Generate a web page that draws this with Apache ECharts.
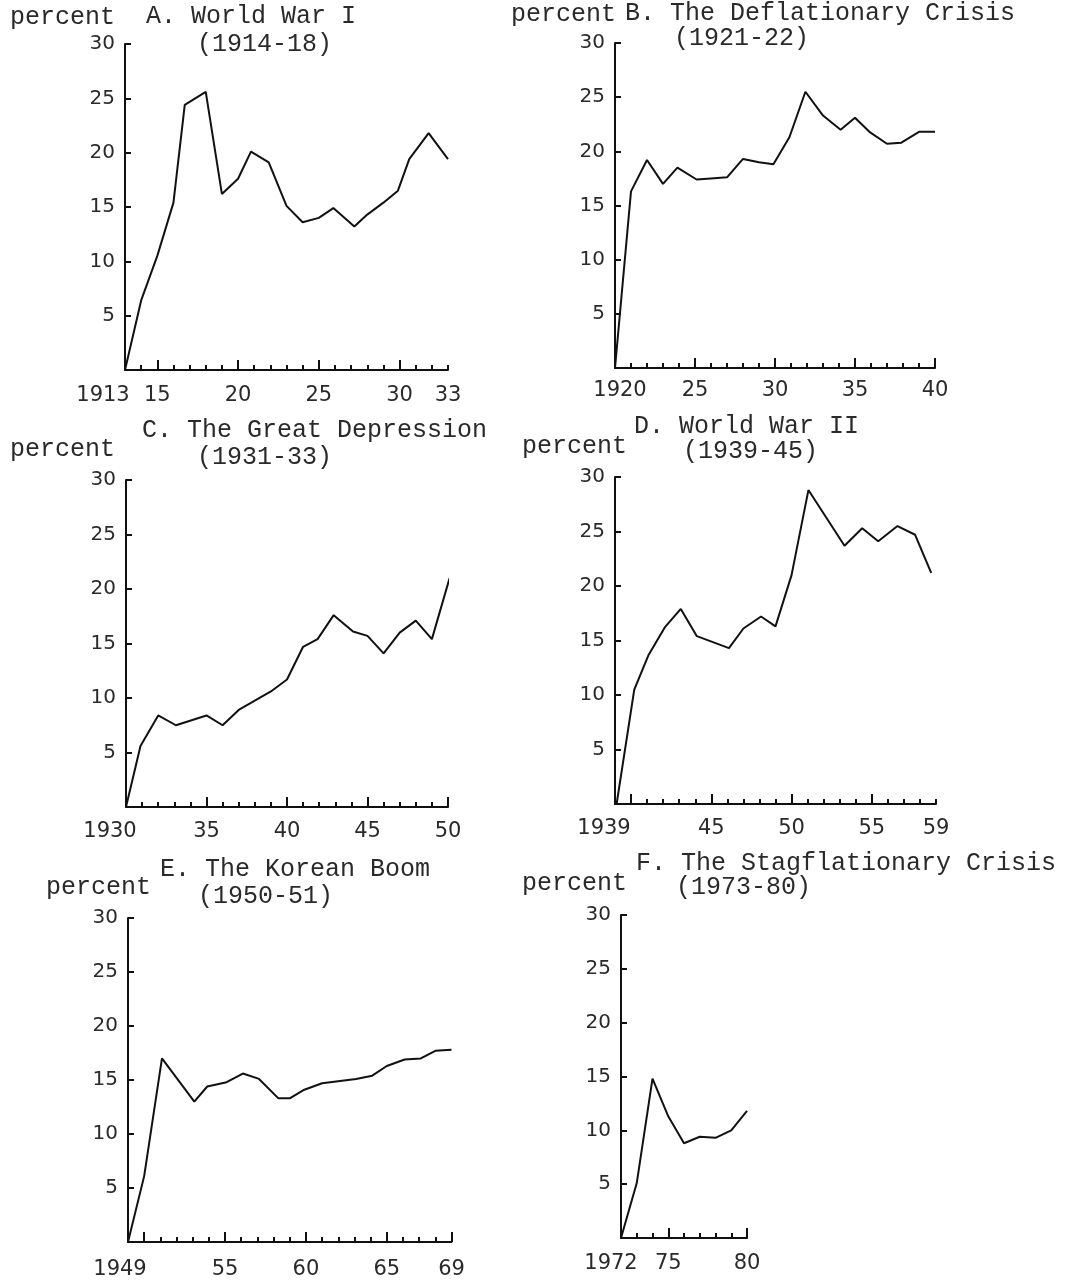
<!DOCTYPE html>
<html><head><meta charset="utf-8">
<script src="https://cdn.jsdelivr.net/npm/echarts@6/dist/echarts.min.js"></script>
<style>html,body{margin:0;padding:0;background:#fff}#c{width:1072px;height:1282px}</style>
</head><body><div id="c"></div>
<script>
// ---- Data (percent) ----
const yearsA  = [1913,1914,1915,1916,1916.7,1918,1919,1920,1920.8,1921.9,1923,1924,1925,1925.9,1927.2,1928,1929,1929.9,1930.6,1931.8,1933];
const valuesA = [0,6.4,10.5,15.4,24.4,25.6,16.2,17.6,20.1,19.1,15.1,13.6,14.0,14.9,13.2,14.3,15.4,16.5,19.4,21.8,19.4];
const yearsB  = [1920,1921,1922,1923,1923.9,1925.1,1926,1927,1928,1929,1929.9,1930.9,1931.9,1933,1934.1,1935,1935.9,1937,1937.9,1939,1940];
const valuesB = [0,16.3,19.2,17.0,18.5,17.4,17.5,17.6,19.3,19.0,18.8,21.3,25.5,23.3,22.0,23.1,21.8,20.7,20.8,21.8,21.8];
const yearsC  = [1930,1930.9,1932,1933.1,1935,1936,1937,1939,1940,1941,1941.9,1942.9,1944.1,1945,1946,1947,1948,1949,1950.1];
const valuesC = [0,5.6,8.4,7.5,8.4,7.5,8.9,10.6,11.7,14.7,15.4,17.6,16.1,15.7,14.1,16.0,17.1,15.4,21.0];
const yearsD  = [1939.1,1940.2,1941.1,1942.1,1943.1,1944.1,1946.1,1947,1948.1,1949,1950,1951.05,1953.3,1954.4,1955.4,1956.6,1957.7,1958.7];
const valuesD = [0,10.5,13.7,16.2,17.9,15.4,14.3,16.1,17.2,16.3,21.0,28.8,23.7,25.3,24.1,25.5,24.7,21.2];
const yearsE  = [1949,1950,1951.1,1953.1,1953.9,1955.1,1956.1,1957.1,1958.3,1959,1959.9,1961,1963.1,1964.1,1965,1966.1,1967.1,1968,1969];
const valuesE = [0,6.1,17.0,13.0,14.4,14.8,15.6,15.1,13.3,13.3,14.1,14.7,15.1,15.4,16.3,16.9,17.0,17.7,17.8];
const yearsF  = [1972,1973,1974,1975,1976,1977,1978,1979,1980];
const valuesF = [0,5.1,14.8,11.3,8.8,9.4,9.3,10.0,11.8];

// ---- Axis tick labels ----
const xLabelsA = [1913,1915,1920,1925,1930,1933];
const xLabelsB = [1920,1925,1930,1935,1940];
const xLabelsC = [1930,1935,1940,1945,1950];
const xLabelsD = [1939,1945,1950,1955,1959];
const xLabelsE = [1949,1955,1960,1965,1969];
const xLabelsF = [1972,1975,1980];
const longTicksA = [1915,1920,1925,1930];
const longTicksB = [1925,1930,1935,1940];
const longTicksC = [1935,1940,1945,1950];
const longTicksD = [1940,1945,1950,1955];
const longTicksE = [1950,1955,1960,1965,1969];
const longTicksF = [1975,1980];
const yTicks = [0,5,10,15,20,25,30];

// ---- Titles ----
const titlesA = ['A. World War I','(1914-18)'];
const titlesB = ['B. The Deflationary Crisis','(1921-22)'];
const titlesC = ['C. The Great Depression','(1931-33)'];
const titlesD = ['D. World War II','(1939-45)'];
const titlesE = ['E. The Korean Boom','(1950-51)'];
const titlesF = ['F. The Stagflationary Crisis','(1973-80)'];
const yUnit = 'percent';

// ---- Layout ----
const panels = [
  {years:yearsA, values:valuesA, labels:xLabelsA, longT:longTicksA, titles:titlesA, xMin:1913, xMax:1933,
   box:{left:125, top:44, width:323, height:326}, firstOff:-22, lm:15,
   tpos:{p:[10,18], t:[146,17], s:[197,45]}},
  {years:yearsB, values:valuesB, labels:xLabelsB, longT:longTicksB, titles:titlesB, xMin:1920, xMax:1940,
   box:{left:615, top:43, width:320, height:325}, firstOff:5, lm:12,
   tpos:{p:[511,15], t:[625,14], s:[674,39]}},
  {years:yearsC, values:valuesC, labels:xLabelsC, longT:longTicksC, titles:titlesC, xMin:1930, xMax:1950,
   box:{left:126, top:480, width:322, height:327}, firstOff:-16, lm:14,
   tpos:{p:[10,450], t:[142,431], s:[197,458]}},
  {years:yearsD, values:valuesD, labels:xLabelsD, longT:longTicksD, titles:titlesD, xMin:1939, xMax:1959,
   box:{left:615, top:477, width:321, height:327}, firstOff:-11, lm:14,
   tpos:{p:[522,447], t:[634,427], s:[683,452]}},
  {years:yearsE, values:valuesE, labels:xLabelsE, longT:longTicksE, titles:titlesE, xMin:1949, xMax:1969,
   box:{left:128, top:918, width:323.5, height:324}, firstOff:-8, lm:17,
   tpos:{p:[46,888], t:[160,870], s:[198,897]}},
  {years:yearsF, values:valuesF, labels:xLabelsF, longT:longTicksF, titles:titlesF, xMin:1972, xMax:1980,
   box:{left:621, top:915, width:126, height:323}, firstOff:-10, lm:15,
   tpos:{p:[522,884], t:[636,864], s:[676,888]}}
];

const INK = '#111';
const TXT = '#2a2a2a';
const grids = [], xAxes = [], yAxes = [], series = [], titles = [];
const tstyle = {fontFamily:'Liberation Mono', fontSize:25, fontWeight:'normal', color:TXT};

panels.forEach((p, i) => {
  const g = {left:p.box.left, top:p.box.top, width:p.box.width, height:p.box.height, containLabel:false};
  grids.push(Object.assign({}, g), Object.assign({}, g));
  const minor = [];
  for (let y = p.xMin + 1; y <= p.xMax; y++) minor.push(y);
  const off = p.firstOff;
  xAxes.push({
    gridIndex: 2*i, type:'value', min:p.xMin, max:p.xMax,
    axisLine:{show:true, onZero:false, lineStyle:{color:INK, width:2}},
    axisTick:{show:true, inside:true, length:5, customValues:minor, lineStyle:{color:INK, width:2}},
    axisLabel:{show:true, customValues:p.labels, margin:p.lm, fontFamily:'DejaVu Sans', fontSize:21, color:TXT,
      formatter: v => v === p.xMin ? '{f|' + v + '}' : String(v).slice(2),
      rich:{f:{fontFamily:'DejaVu Sans', fontSize:21, color:TXT,
        padding: off < 0 ? [0, -2*off, 0, 0] : [0, 0, 0, 2*off]}}},
    splitLine:{show:false}
  });
  xAxes.push({
    gridIndex: 2*i+1, type:'value', min:p.xMin, max:p.xMax,
    axisLine:{show:false},
    axisTick:{show:true, inside:true, length:10, customValues:p.longT, lineStyle:{color:INK, width:2}},
    axisLabel:{show:false}, splitLine:{show:false}
  });
  yAxes.push({
    gridIndex: 2*i, type:'value', min:0, max:30, interval:5,
    axisLine:{show:true, onZero:false, lineStyle:{color:INK, width:2}},
    axisTick:{show:true, inside:true, length:6, customValues:yTicks, lineStyle:{color:INK, width:2}},
    axisLabel:{show:true, margin:10, fontFamily:'DejaVu Sans', fontSize:20, color:TXT,
      formatter: v => v === 0 ? '' : String(v)},
    splitLine:{show:false}
  });
  yAxes.push({gridIndex: 2*i+1, type:'value', min:0, max:30, show:false, splitLine:{show:false}});
  series.push({
    type:'line', xAxisIndex:2*i, yAxisIndex:2*i, symbol:'none', silent:true,
    lineStyle:{color:INK, width:2}, data: p.years.map((y, k) => [y, p.values[k]])
  });
  const tp = p.tpos;
  titles.push({text:yUnit, left:tp.p[0], top:tp.p[1]-13, padding:0, textStyle:tstyle});
  titles.push({text:p.titles[0], left:tp.t[0], top:tp.t[1]-13, padding:0, textStyle:tstyle});
  titles.push({text:p.titles[1], left:tp.s[0], top:tp.s[1]-13, padding:0, textStyle:tstyle});
});

const chart = echarts.init(document.getElementById('c'), null, {renderer:'canvas'});
chart.setOption({
  backgroundColor:'#ffffff', animation:false,
  title: titles, grid: grids, xAxis: xAxes, yAxis: yAxes, series: series
});
</script></body></html>
